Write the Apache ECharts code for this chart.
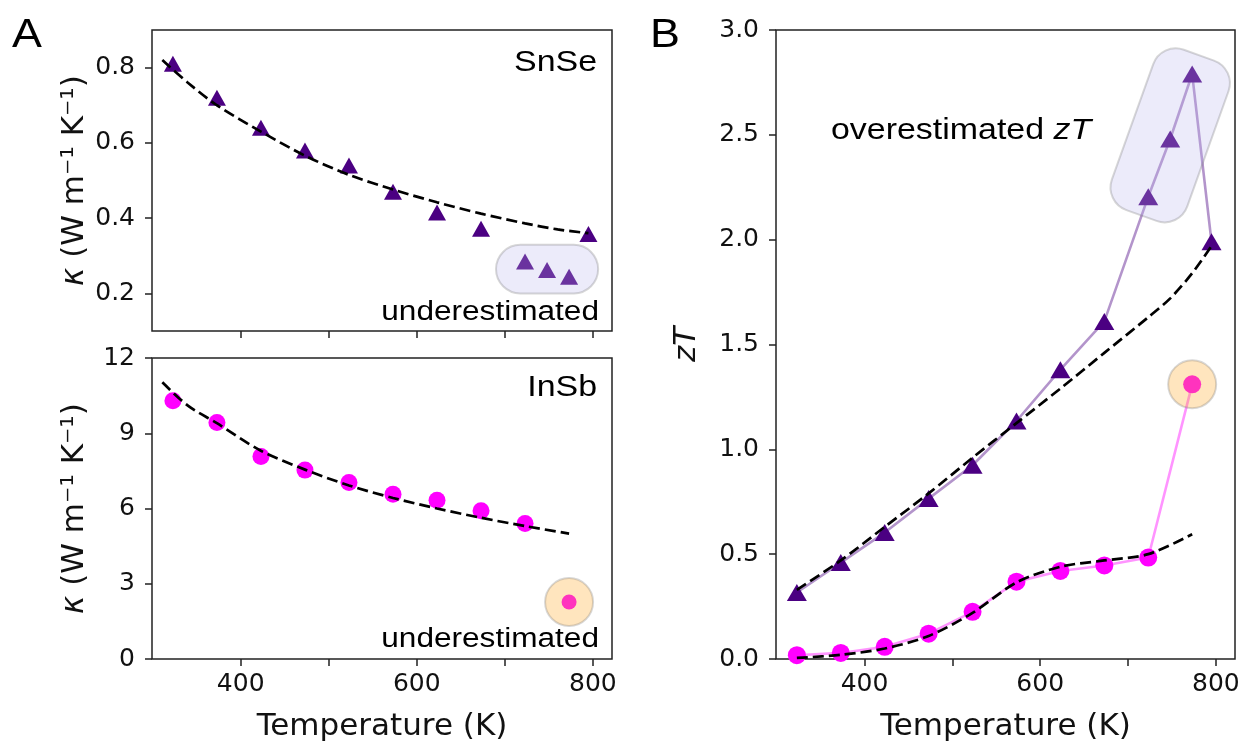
<!DOCTYPE html>
<html><head><meta charset="utf-8">
<script src="https://cdn.jsdelivr.net/npm/echarts@6/dist/echarts.min.js"></script>
<style>html,body{margin:0;padding:0;background:#fff}#c{width:1249px;height:743px}</style>
</head><body><div id="c"></div><script>
// ---- data ----
const snseT = [323, 373, 423, 473, 523, 573, 623, 673, 723, 748, 773, 795];
const snseKappa = [0.81, 0.72, 0.64, 0.58, 0.54, 0.47, 0.415, 0.372, 0.285, 0.262, 0.244, 0.358];
const snseKappaFitT = [311, 340, 373, 423, 473, 523, 573, 623, 673, 723, 760, 795];
const snseKappaFit = [0.82, 0.76, 0.70, 0.63, 0.566, 0.515, 0.476, 0.442, 0.412, 0.386, 0.37, 0.36];
const insbT = [323, 373, 423, 473, 523, 573, 623, 673, 723, 773];
const insbKappa = [10.3, 9.43, 8.07, 7.53, 7.04, 6.57, 6.33, 5.91, 5.4, 2.27];
const insbKappaFitT = [311, 340, 373, 423, 473, 523, 573, 623, 673, 723, 773];
const insbKappaFit = [11.03, 10.1, 9.4, 8.3, 7.55, 6.92, 6.42, 6.0, 5.63, 5.3, 5.0];
const snseZT = [0.317, 0.46, 0.603, 0.765, 0.924, 1.135, 1.38, 1.61, 2.205, 2.48, 2.79, 1.99];
const snseZTFitT = [323, 373, 423, 473, 523, 573, 623, 673, 723, 748, 773, 795];
const snseZTFit = [0.33, 0.47, 0.63, 0.79, 0.96, 1.125, 1.29, 1.46, 1.63, 1.72, 1.84, 1.97];
const insbZT = [0.018, 0.029, 0.058, 0.121, 0.225, 0.369, 0.42, 0.446, 0.484, 1.31];
const insbZTFitT = [323, 373, 423, 473, 523, 573, 623, 673, 723, 773];
const insbZTFit = [0.005, 0.02, 0.05, 0.11, 0.22, 0.365, 0.44, 0.47, 0.5, 0.595];
const xTicks = [400, 500, 600, 700, 800];
const xTickLabels = [400, 600, 800];
const snseKappaTicks = [0.2, 0.4, 0.6, 0.8];
// highlighted regions (data coordinates)
const snseUnderBox = [690, 0.329, 806, 0.2];
const insbUnderPoint = [773, 2.27];
const snseOverPair = [723, 2.205, 773, 2.79];
const insbOverPoint = [773, 1.31];

const pairs = (xs, ys) => xs.map((x, i) => [x, ys[i]]);
const INDIGO = '#4b0082', MAGENTA = '#ff00ff';
const AX = 'DejaVu Sans', AN = 'Liberation Sans';
const lavFill = 'rgba(187,183,237,0.28)', patchStroke = 'rgba(110,110,110,0.28)';
const orangeFill = 'rgba(255,168,40,0.30)';
const TICK = 25, TITLE = 31;

function xAxis(gi, showLabels, name) {
  return {
    type: 'value', gridIndex: gi, min: 299.25, max: 821.75,
    axisLine: { show: false }, splitLine: { show: false },
    axisTick: { show: true, length: 7, lineStyle: { color: '#222', width: 1.5 }, customValues: xTicks },
    axisLabel: { show: showLabels, customValues: xTickLabels, fontSize: TICK, fontFamily: AX, color: '#111', margin: 13 },
    name: name, nameLocation: 'middle', nameGap: 52,
    nameTextStyle: { fontSize: TITLE, fontFamily: AX, color: '#111' }
  };
}
function yAxis(gi, o) {
  return Object.assign({
    type: 'value', gridIndex: gi,
    axisLine: { show: false }, splitLine: { show: false },
    axisTick: { show: true, length: 7, lineStyle: { color: '#222', width: 1.5 } },
    axisLabel: { fontSize: TICK, fontFamily: AX, color: '#111', margin: 17 },
    nameLocation: 'middle', nameGap: 62,
    nameTextStyle: { fontSize: TITLE, fontFamily: AX, color: '#111', rich: { i: { fontStyle: 'italic', fontSize: TITLE, fontFamily: AX, color: '#111' } } }
  }, o);
}
const kappaName = '{i|κ} (W m⁻¹ K⁻¹)';
const dashed = { color: '#000', width: 2.7, type: [11, 5] };
const patchItem = { color: orangeFill, borderColor: patchStroke, borderWidth: 2, opacity: 1 };
const gridBase = { show: true, borderColor: '#222', borderWidth: 1.5, outerBoundsMode: 'none', containLabel: false };

const chart = echarts.init(document.getElementById('c'), null, { renderer: 'canvas' });
chart.setOption({
  animation: false,
  backgroundColor: '#fff',
  grid: [
    Object.assign({ left: 152, top: 30, width: 460, height: 301 }, gridBase),
    Object.assign({ left: 152, top: 358, width: 460, height: 301 }, gridBase),
    Object.assign({ left: 776, top: 30, width: 459, height: 629 }, gridBase)
  ],
  xAxis: [xAxis(0, false, ''), xAxis(1, true, 'Temperature (K)'), xAxis(2, true, 'Temperature (K)')],
  yAxis: [
    yAxis(0, { min: 0.1, max: 0.9, name: kappaName,
      axisTick: { show: true, length: 7, lineStyle: { color: '#222', width: 1.5 }, customValues: snseKappaTicks },
      axisLabel: { fontSize: TICK, fontFamily: AX, color: '#111', margin: 17, customValues: snseKappaTicks, formatter: v => v.toFixed(1) } }),
    yAxis(1, { min: 0, max: 12, interval: 3, name: kappaName }),
    yAxis(2, { min: 0, max: 3, interval: 0.5, name: '{i|zT}', nameGap: 74,
      axisLabel: { fontSize: TICK, fontFamily: AX, color: '#111', margin: 17, formatter: v => v.toFixed(1) } })
  ],
  series: [
    // Panel A top: SnSe kappa
    { type: 'scatter', xAxisIndex: 0, yAxisIndex: 0, data: pairs(snseT, snseKappa), symbol: 'triangle', symbolSize: [18, 16], itemStyle: { color: INDIGO, opacity: 1 }, z: 3 },
    { type: 'line', xAxisIndex: 0, yAxisIndex: 0, data: pairs(snseKappaFitT, snseKappaFit), showSymbol: false, smooth: 0.3, lineStyle: dashed, z: 4 },
    { type: 'custom', xAxisIndex: 0, yAxisIndex: 0, data: [snseUnderBox], encode: { x: [0, 2], y: [1, 3] }, z: 6,
      renderItem: (p, api) => {
        const a = api.coord([api.value(0), api.value(1)]), b = api.coord([api.value(2), api.value(3)]);
        const h = Math.abs(b[1] - a[1]);
        return { type: 'rect', shape: { x: Math.min(a[0], b[0]), y: Math.min(a[1], b[1]), width: Math.abs(b[0] - a[0]), height: h, r: h / 2 },
          style: { fill: lavFill, stroke: patchStroke, lineWidth: 2 } };
      } },
    // Panel A bottom: InSb kappa
    { type: 'scatter', xAxisIndex: 1, yAxisIndex: 1, data: pairs(insbT.slice(0, 9), insbKappa.slice(0, 9)), symbol: 'circle', symbolSize: 17, itemStyle: { color: MAGENTA, opacity: 1 }, z: 3 },
    { type: 'scatter', xAxisIndex: 1, yAxisIndex: 1, data: pairs(insbT.slice(9), insbKappa.slice(9)), symbol: 'circle', symbolSize: 15, itemStyle: { color: MAGENTA, opacity: 1 }, z: 3 },
    { type: 'line', xAxisIndex: 1, yAxisIndex: 1, data: pairs(insbKappaFitT, insbKappaFit), showSymbol: false, smooth: 0.3, lineStyle: dashed, z: 4 },
    { type: 'scatter', xAxisIndex: 1, yAxisIndex: 1, data: [insbUnderPoint], symbol: 'circle', symbolSize: 48, itemStyle: patchItem, z: 6 },
    // Panel B: zT
    { type: 'line', xAxisIndex: 2, yAxisIndex: 2, data: pairs(snseT, snseZT), symbol: 'triangle', symbolSize: [20, 17], showAllSymbol: true,
      itemStyle: { color: INDIGO, opacity: 1 }, lineStyle: { color: 'rgba(75,0,130,0.42)', width: 2.6 }, z: 3 },
    { type: 'line', xAxisIndex: 2, yAxisIndex: 2, data: pairs(insbT, insbZT), symbol: 'circle', symbolSize: 18, showAllSymbol: true,
      itemStyle: { color: MAGENTA, opacity: 1 }, lineStyle: { color: 'rgba(255,0,255,0.42)', width: 2.6 }, z: 3 },
    { type: 'line', xAxisIndex: 2, yAxisIndex: 2, data: pairs(snseZTFitT, snseZTFit), showSymbol: false, smooth: 0.3, lineStyle: dashed, z: 4 },
    { type: 'line', xAxisIndex: 2, yAxisIndex: 2, data: pairs(insbZTFitT, insbZTFit), showSymbol: false, smooth: 0.3, lineStyle: dashed, z: 4 },
    { type: 'custom', xAxisIndex: 2, yAxisIndex: 2, data: [snseOverPair], encode: { x: [0, 2], y: [1, 3] }, z: 6,
      renderItem: (p, api) => {
        const a = api.coord([api.value(0), api.value(1)]), b = api.coord([api.value(2), api.value(3)]);
        const dx = b[0] - a[0], dy = b[1] - a[1];
        const L = Math.hypot(dx, dy) + 40, W = 80;
        return { type: 'rect', x: (a[0] + b[0]) / 2, y: (a[1] + b[1]) / 2, rotation: Math.atan2(-dy, dx),
          shape: { x: -L / 2, y: -W / 2, width: L, height: W, r: 24 },
          style: { fill: lavFill, stroke: patchStroke, lineWidth: 2 } };
      } },
    { type: 'scatter', xAxisIndex: 2, yAxisIndex: 2, data: [insbOverPoint], symbol: 'circle', symbolSize: 48, itemStyle: patchItem, z: 6 }
  ],
  graphic: [
    { type: 'text', x: 12, y: 36, scaleX: 1.12, style: { text: 'A', fontSize: 40, fontFamily: AN, fill: '#000', align: 'left', verticalAlign: 'middle' } },
    { type: 'text', x: 650, y: 36, scaleX: 1.12, style: { text: 'B', fontSize: 40, fontFamily: AN, fill: '#000', align: 'left', verticalAlign: 'middle' } },
    { type: 'text', x: 597, y: 63, scaleX: 1.17, style: { text: 'SnSe', fontSize: 29, fontFamily: AN, fill: '#000', align: 'right', verticalAlign: 'middle' } },
    { type: 'text', x: 597, y: 388, scaleX: 1.17, style: { text: 'InSb', fontSize: 29, fontFamily: AN, fill: '#000', align: 'right', verticalAlign: 'middle' } },
    { type: 'text', x: 599, y: 313, scaleX: 1.17, style: { text: 'underestimated', fontSize: 27, fontFamily: AN, fill: '#000', align: 'right', verticalAlign: 'middle' } },
    { type: 'text', x: 599, y: 640, scaleX: 1.17, style: { text: 'underestimated', fontSize: 27, fontFamily: AN, fill: '#000', align: 'right', verticalAlign: 'middle' } },
    { type: 'text', x: 831, y: 131, scaleX: 1.17, style: { text: 'overestimated {i|zT}', fontSize: 29, fontFamily: AN, fill: '#000', align: 'left', verticalAlign: 'middle',
      rich: { i: { fontStyle: 'italic', fontSize: 29, fontFamily: AN, fill: '#000' } } } }
  ]
});
</script></body></html>
